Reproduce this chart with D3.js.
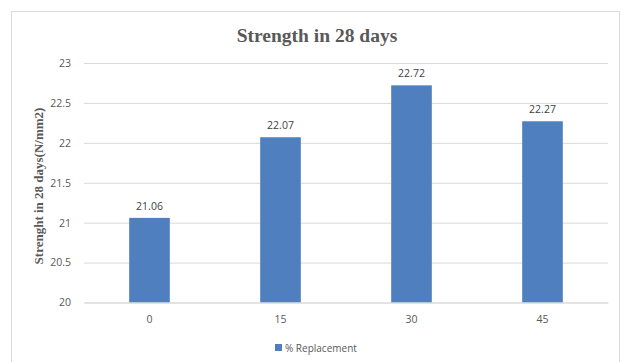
<!DOCTYPE html>
<html>
<head>
<meta charset="utf-8">
<script src="https://cdn.jsdelivr.net/npm/d3@7"></script>
<style>
  html, body { margin: 0; padding: 0; background: #fff; }
  svg { display: block; }
</style>
</head>
<body>
<svg id="chart" width="624" height="362"></svg>
<script>
// Compressive strength after 28 days for each replacement level
const categories = ["0", "15", "30", "45"];
const strengthValues = [21.06, 22.07, 22.72, 22.27];
const yTicks = [20, 20.5, 21, 21.5, 22, 22.5, 23];
const yTickLabels = ["20", "20.5", "21", "21.5", "22", "22.5", "23"];
const seriesName = "% Replacement";
const chartTitle = "Strength in 28 days";
const yAxisTitle = "Strenght in 28 days(N/mm2)";

const svg = d3.select("#chart");
const barColor = "#4f7fbe";
const gridColor = "#d9d9d9";
const textColor = "#595959";
const sansFont = "'Open Sans', 'Liberation Sans', sans-serif";
const serifFont = "'Liberation Serif', 'DejaVu Serif', serif";

// Outer frame
svg.append("rect")
  .attr("x", 11.5).attr("y", 11.5)
  .attr("width", 608).attr("height", 360)
  .attr("fill", "#fff")
  .attr("stroke", gridColor).attr("stroke-width", 1);

const plot = { left: 84, right: 608, top: 63, bottom: 302.5 };

const x = d3.scaleBand()
  .domain(categories)
  .range([plot.left, plot.right])
  .paddingInner(0.69)
  .paddingOuter(0.345);

const y = d3.scaleLinear()
  .domain([20, 23])
  .range([plot.bottom, plot.top]);

// Horizontal gridlines with tick labels
const yAxis = d3.axisLeft(y)
  .tickValues(yTicks)
  .tickSize(-(plot.right - plot.left))
  .tickPadding(13)
  .tickFormat((d, i) => yTickLabels[i]);

const gy = svg.append("g")
  .attr("transform", `translate(${plot.left},0)`)
  .call(yAxis);
gy.select(".domain").remove();
gy.selectAll(".tick line").attr("stroke", gridColor).attr("stroke-width", 1);
gy.selectAll(".tick text")
  .attr("fill", textColor)
  .attr("font-family", sansFont)
  .attr("font-size", 10.5);

// Bars
svg.append("g")
  .selectAll("rect")
  .data(strengthValues)
  .join("rect")
  .attr("x", (d, i) => x(categories[i]))
  .attr("y", d => y(d))
  .attr("width", x.bandwidth())
  .attr("height", d => y(20) - y(d))
  .attr("fill", barColor);

// Value labels above the bars
svg.append("g")
  .selectAll("text")
  .data(strengthValues)
  .join("text")
  .attr("x", (d, i) => x(categories[i]) + x.bandwidth() / 2)
  .attr("y", d => y(d) - 8)
  .attr("text-anchor", "middle")
  .attr("fill", "#404040")
  .attr("font-family", sansFont)
  .attr("font-size", 10.5)
  .text(d => d.toFixed(2));

// Category axis
const xAxis = d3.axisBottom(x).tickSize(0).tickPadding(13);
const gx = svg.append("g")
  .attr("transform", `translate(0,${plot.bottom})`)
  .call(xAxis);
gx.select(".domain").attr("stroke", gridColor);
gx.selectAll(".tick text")
  .attr("fill", textColor)
  .attr("font-family", sansFont)
  .attr("font-size", 10.5);

// Title
svg.append("text")
  .attr("x", 317)
  .attr("y", 42)
  .attr("text-anchor", "middle")
  .attr("fill", textColor)
  .attr("font-family", serifFont)
  .attr("font-weight", "bold")
  .attr("font-size", 19.5)
  .text(chartTitle);

// Y axis title
svg.append("text")
  .attr("transform", `translate(43,186) rotate(-90)`)
  .attr("text-anchor", "middle")
  .attr("fill", textColor)
  .attr("font-family", serifFont)
  .attr("font-weight", "bold")
  .attr("font-size", 13)
  .text(yAxisTitle);

// Legend
const legend = svg.append("g").attr("transform", "translate(275,344)");
legend.append("rect")
  .attr("width", 7).attr("height", 7)
  .attr("fill", barColor);
legend.append("text")
  .attr("x", 10).attr("y", 7.5)
  .attr("fill", textColor)
  .attr("font-family", sansFont)
  .attr("font-size", 10)
  .text(seriesName);
</script>
</body>
</html>
